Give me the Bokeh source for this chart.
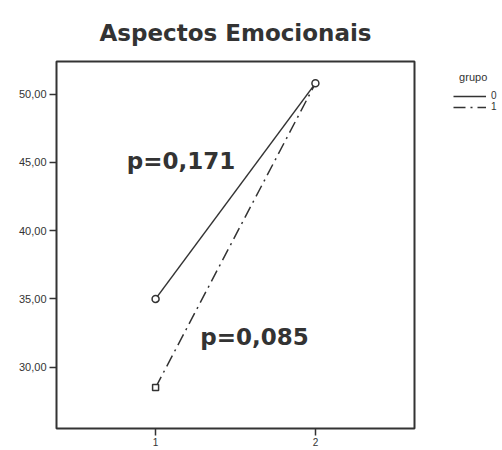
from bokeh.plotting import figure
from bokeh.models import Range1d, FixedTicker, Legend, LegendItem, Label
from bokeh.embed import file_html
from bokeh.resources import INLINE

# data
moments = [1, 2]
grupo0 = [35.0, 50.8]
grupo1 = [28.5, 50.8]
y_ticks = [30, 35, 40, 45, 50]
y_labels = {t: f"{t},00" for t in y_ticks}
x_ticks = [1, 2]
p_texts = ["p=0,171", "p=0,085"]
p_pos = [(0.82, 45.1), (1.28, 32.2)]

p = figure(frame_width=358, frame_height=367, output_backend="svg", toolbar_location=None,
           x_range=Range1d(0.38, 2.62), y_range=Range1d(25.5, 52.4),
           min_border_left=56, min_border_right=0, min_border_top=61, min_border_bottom=0)
p.background_fill_color = "white"
p.border_fill_color = "white"
p.outline_line_color = "#333333"
p.outline_line_width = 2
p.xgrid.visible = False
p.ygrid.visible = False

p.title.text = "Aspectos Emocionais"
p.title.align = "center"
p.title.text_font = "DejaVu Sans"
p.title.text_font_size = "23px"
p.title.text_font_style = "bold"
p.title.text_color = "#333333"
p.title.standoff = 32

for ax in (p.xaxis[0], p.yaxis[0]):
    ax.axis_line_color = None
    ax.major_tick_line_color = "#333333"
    ax.major_tick_line_width = 1.5
    ax.major_tick_in = 0
    ax.major_tick_out = 7
    ax.minor_tick_line_color = None
    ax.major_label_text_font = "Liberation Sans"
    ax.major_label_text_font_size = "11px"
    ax.major_label_text_color = "#333333"
    ax.major_label_standoff = 3
p.xaxis.major_label_standoff = 2
p.xaxis.major_label_text_font_size = "10px"
p.yaxis.ticker = FixedTicker(ticks=y_ticks)
p.yaxis.major_label_overrides = y_labels
p.xaxis.ticker = FixedTicker(ticks=x_ticks)

r0 = p.line(moments, grupo0, line_color="#333333", line_width=1.5)
r1 = p.line(moments, grupo1, line_color="#333333", line_width=1.5, line_dash="12 5 2 5")
p.scatter(moments, grupo0, marker="circle", size=7, fill_color="white",
          line_color="#333333", line_width=1.5)
p.scatter(moments[:1], grupo1[:1], marker="square", size=6, fill_color="white",
          line_color="#333333", line_width=1.5)

for t, (x, y) in zip(p_texts, p_pos):
    p.add_layout(Label(x=x, y=y, text=t, text_font="DejaVu Sans", text_font_style="bold",
                       text_font_size="23px", text_color="#333333", text_baseline="middle"))

legend = Legend(items=[LegendItem(label="0", renderers=[r0]),
                       LegendItem(label="1", renderers=[r1])],
                title="\u00a0\u00a0grupo", location=(39, 316), orientation="vertical",
                glyph_width=33, glyph_height=10, label_text_font_size="10px",
                label_text_font="Liberation Sans", title_text_font="Liberation Sans",
                title_text_font_size="11px", title_text_font_style="normal",
                title_text_color="#333333", label_text_color="#333333",
                label_standoff=5, spacing=0, padding=2, margin=0,
                border_line_color=None, background_fill_alpha=0,
                label_height=9, title_standoff=7)
p.add_layout(legend, "right")

open("out.html", "w").write(file_html(p, INLINE))
